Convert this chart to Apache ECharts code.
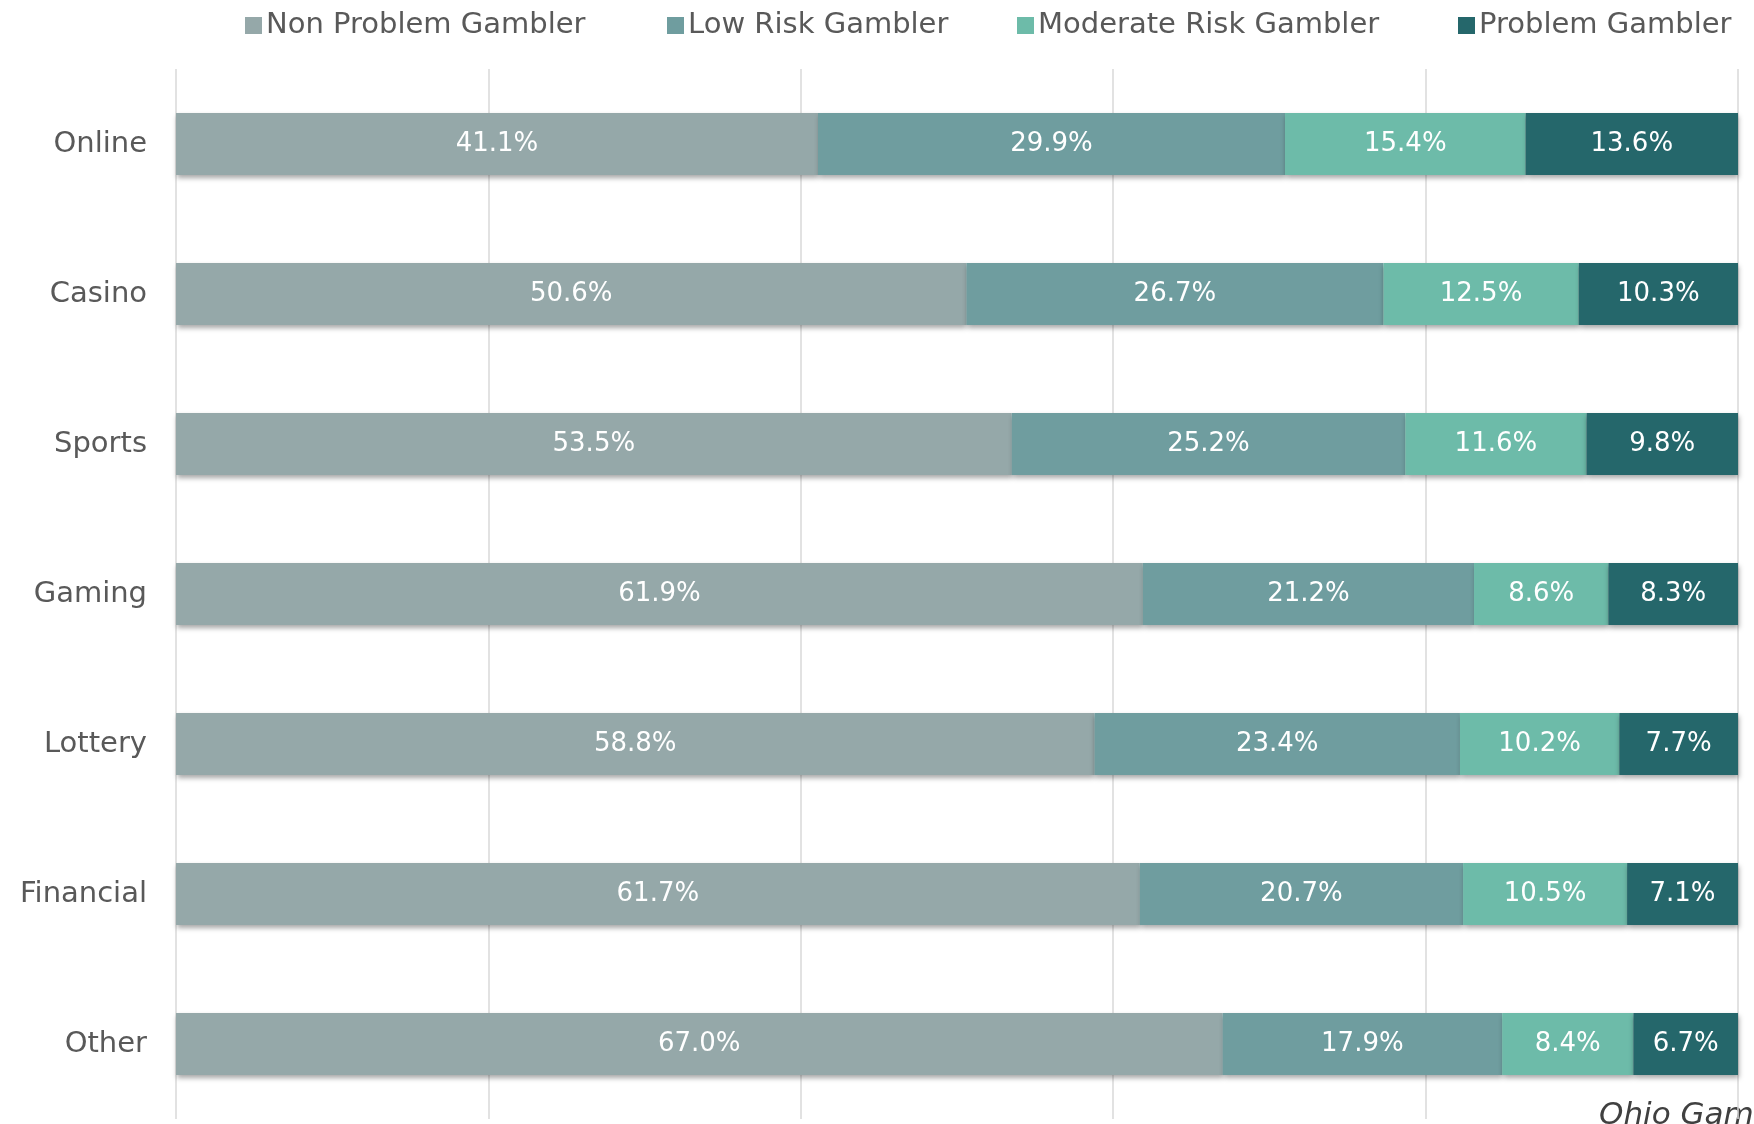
<!DOCTYPE html>
<html><head><meta charset="utf-8">
<script src="https://cdn.jsdelivr.net/npm/echarts@6/dist/echarts.min.js"></script>
<style>html,body{margin:0;padding:0;background:#fff}#c{width:1754px;height:1124px}</style>
</head><body><div id="c"></div>
<script>
const categories = ['Online','Casino','Sports','Gaming','Lottery','Financial','Other'];
const seriesNames = ['Non Problem Gambler','Low Risk Gambler','Moderate Risk Gambler','Problem Gambler'];
const nonProblem = [41.1, 50.6, 53.5, 61.9, 58.8, 61.7, 67.0];
const lowRisk = [29.9, 26.7, 25.2, 21.2, 23.4, 20.7, 17.9];
const moderateRisk = [15.4, 12.5, 11.6, 8.6, 10.2, 10.5, 8.4];
const problem = [13.6, 10.3, 9.8, 8.3, 7.7, 7.1, 6.7];
const sourceText = 'Ohio Gambling Survey';

const colors = ['#95a8a9','#6f9d9f','#6dbba9','#25676b'];
const dataSets = [nonProblem, lowRisk, moderateRisk, problem];
const legendLefts = [240, 662, 1012, 1453];
const FONT = 'DejaVu Sans';

const chart = echarts.init(document.getElementById('c'));
chart.setOption({
  animation: false,
  textStyle: {fontFamily: FONT},
  legend: seriesNames.map((n, i) => ({
    top: 6, left: legendLefts[i],
    itemWidth: 17, itemHeight: 17,
    icon: 'rect',
    textStyle: {fontSize: 29, color: '#595959', fontFamily: FONT, padding: [0,0,0,-1]},
    data: [n]
  })),
  grid: {left: 176, right: 16, top: 69, bottom: 5, containLabel: false},
  xAxis: {
    type: 'value', min: 0, max: 100, interval: 20,
    axisLabel: {show: false}, axisLine: {show: false}, axisTick: {show: false},
    splitLine: {show: true, lineStyle: {color: '#d9d9d9', width: 1.5}}
  },
  yAxis: {
    type: 'category', inverse: true, data: categories,
    axisLine: {show: false}, axisTick: {show: false},
    axisLabel: {fontSize: 29, color: '#595959', margin: 29, fontFamily: FONT}
  },
  graphic: [{
    type: 'text', left: 1599, top: 1100,
    style: {text: sourceText, fontSize: 31, fontStyle: 'italic', fill: '#404040', fontFamily: FONT}
  }],
  series: seriesNames.map((name, i) => ({
    name, type: 'bar', stack: 'total', barWidth: 62,
    data: dataSets[i],
    itemStyle: {color: colors[i], shadowColor: 'rgba(0,0,0,0.35)', shadowBlur: 5, shadowOffsetY: 3, shadowOffsetX: 1},
    label: {show: true, position: 'inside', color: '#ffffff', fontSize: 26, fontFamily: FONT,
      formatter: p => p.value.toFixed(1) + '%'}
  }))
});
</script></body></html>
